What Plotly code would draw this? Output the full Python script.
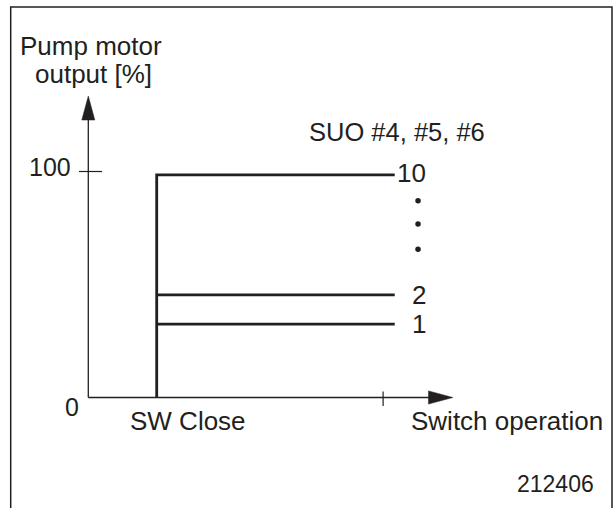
import plotly.graph_objects as go

# Pump motor output for each start-up step after the switch closes [%]
step_numbers = ["1", "2", "10"]
step_output = [32.5, 45.4, 98.5]

# Ellipsis marks standing for the steps between 2 and 10 [%]
ellipsis_output = [65.6, 76.8, 87.1]

# Output axis ticks
y_tick_values = [0, 100]
y_tick_labels = ["0", "100"]

# Switch-operation axis positions (schematic units)
sw_close_x = 1.0
step_end_x = 4.48
x_tick_value = 4.31
x_axis_end = 5.33
y_axis_end = 133.4

# Scale of the drawing: pixels per unit on each axis
PX_X = 68.4
PX_Y = 2.26
W, H = 616, 508
ORIGIN_PX = (88.3, 397.5)

INK = "#231f20"
FONT = "Liberation Sans, Arial, Helvetica, sans-serif"

x_range = [-ORIGIN_PX[0] / PX_X, (W - ORIGIN_PX[0]) / PX_X]
y_range = [-(H - ORIGIN_PX[1]) / PX_Y, ORIGIN_PX[1] / PX_Y]


def dx(px):
    return px / PX_X


def dy(px):
    return px / PX_Y


fig = go.Figure()

# Axes
fig.add_trace(go.Scatter(x=[0, 0], y=[0, y_axis_end - dy(20)], mode="lines",
                         line=dict(color=INK, width=1.3), hoverinfo="skip"))
fig.add_trace(go.Scatter(x=[0, x_axis_end - dx(20)], y=[0, 0], mode="lines",
                         line=dict(color=INK, width=1.3), hoverinfo="skip"))

# Arrowheads
fig.add_trace(go.Scatter(
    x=[-dx(6.5), dx(6.5), 0, -dx(6.5)],
    y=[y_axis_end - dy(24), y_axis_end - dy(24), y_axis_end, y_axis_end - dy(24)],
    mode="lines", fill="toself", fillcolor=INK, line=dict(color=INK, width=0.5),
    hoverinfo="skip"))
fig.add_trace(go.Scatter(
    x=[x_axis_end - dx(24.4), x_axis_end - dx(24.4), x_axis_end, x_axis_end - dx(24.4)],
    y=[dy(6.6), -dy(6.6), 0, dy(6.6)],
    mode="lines", fill="toself", fillcolor=INK, line=dict(color=INK, width=0.5),
    hoverinfo="skip"))

# Tick marks
fig.add_trace(go.Scatter(x=[-dx(9.3), dx(13.7)], y=[y_tick_values[1]] * 2, mode="lines",
                         line=dict(color=INK, width=1.2), hoverinfo="skip"))
fig.add_trace(go.Scatter(x=[x_tick_value] * 2, y=[dy(6), -dy(8.5)], mode="lines",
                         line=dict(color=INK, width=1.2), hoverinfo="skip"))

# Output steps: rise at SW close to the top step, plus the lower steps
fig.add_trace(go.Scatter(x=[sw_close_x, sw_close_x, step_end_x],
                         y=[0, step_output[-1], step_output[-1]], mode="lines",
                         line=dict(color=INK, width=2.8), hoverinfo="skip"))
for level in step_output[:-1]:
    fig.add_trace(go.Scatter(x=[sw_close_x, step_end_x], y=[level, level], mode="lines",
                             line=dict(color=INK, width=2.8), hoverinfo="skip"))

# Ellipsis dots
fig.add_trace(go.Scatter(x=[step_end_x + dx(23.3)] * len(ellipsis_output), y=ellipsis_output,
                         mode="markers", marker=dict(color=INK, size=5.5),
                         hoverinfo="skip"))

annotations = []


def label(text, x, y, size=26, xanchor="center", yshift=0):
    annotations.append(dict(text=text, x=x, y=y, xref="x", yref="y", showarrow=False,
                            xanchor=xanchor, yanchor="middle", yshift=yshift,
                            font=dict(family=FONT, size=size, color=INK)))


# Step numbers at the right end of each step
for name, level in zip(step_numbers, step_output):
    label(name, step_end_x + dx(33), level, xanchor="right",
          yshift=2 if name == "10" else 0)

# Axis labels and tick labels
label("Pump motor", dx(2.2), y_axis_end + dy(50))
label("output [%]", dx(4.7), y_axis_end + dy(22.2))
label(y_tick_labels[1], -dx(15.6), y_tick_values[1], size=25, xanchor="right", yshift=5)
label(y_tick_labels[0], -dx(7.3), y_tick_values[0], size=25, xanchor="right", yshift=-9.5)
label("SW Close", sw_close_x + dx(31.3), -dy(23.5))
label("Switch operation", x_axis_end + dx(54.3), -dy(23.5))
label("SUO #4, #5, #6", step_end_x + dx(2.5), step_output[-1] + dy(42.5), size=25.5)
label("212406", x_axis_end + dx(102.8), -dy(86.5), size=23)

fig.update_layout(
    width=W, height=H,
    margin=dict(l=0, r=0, t=0, b=0),
    paper_bgcolor="white", plot_bgcolor="white",
    showlegend=False,
    xaxis=dict(range=x_range, visible=False, fixedrange=True),
    yaxis=dict(range=y_range, visible=False, fixedrange=True),
    annotations=annotations,
    shapes=[dict(type="path", xref="paper", yref="paper",
                 path=f"M {10.7 / W},{-0.05} L {10.7 / W},{1 - 7 / H} "
                      f"L {612 / W},{1 - 7 / H} L {612 / W},{-0.05}",
                 line=dict(color=INK, width=1.5))],
)

fig.write_html("out.html", config={"displayModeBar": False})
